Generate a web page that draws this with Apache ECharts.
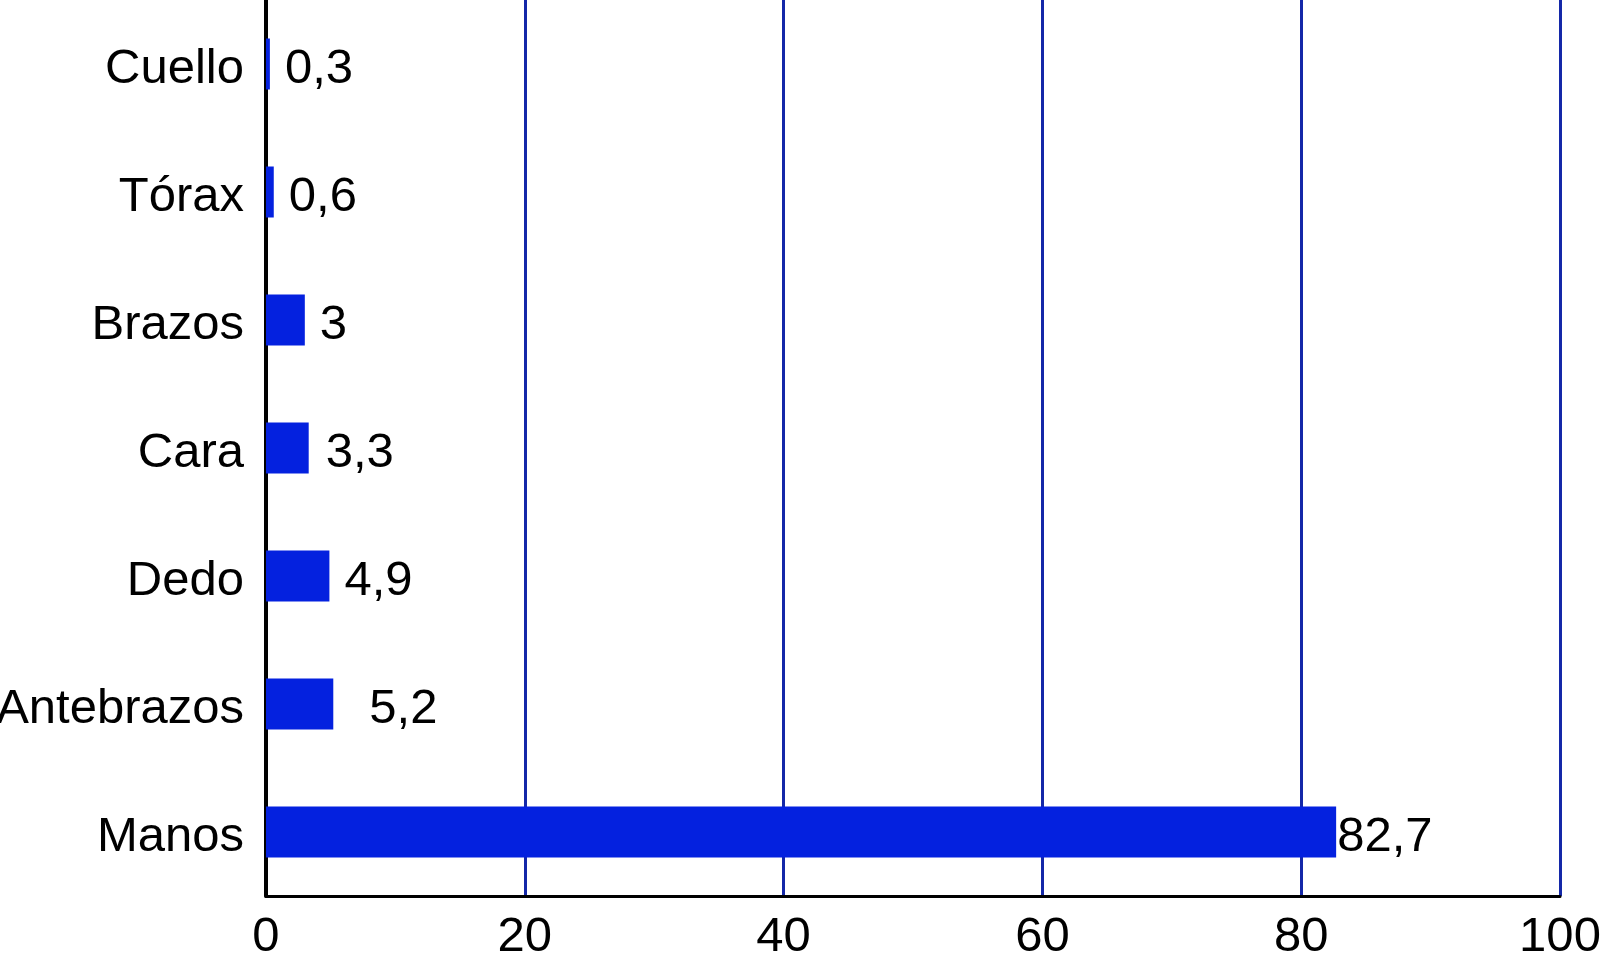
<!DOCTYPE html>
<html>
<head>
<meta charset="utf-8">
<script src="https://cdn.jsdelivr.net/npm/echarts@6/dist/echarts.min.js"></script>
<style>
html,body{margin:0;padding:0;background:#fff;}
#chart{width:1606px;height:960px;}
</style>
</head>
<body>
<div id="chart"></div>
<script>
// Data (bottom to top, as ECharts category axis draws first item at bottom)
const categories = ['Manos', 'Antebrazos', 'Dedo', 'Cara', 'Brazos', 'Tórax', 'Cuello'];
const values = [82.7, 5.2, 4.9, 3.3, 3, 0.6, 0.3];
const xTicks = [0, 20, 40, 60, 80, 100];

// label gaps (style only)
const labelGaps = [1, 36, 15, 17, 15, 15, 15];

const FONT = '"Liberation Sans", Arial, Helvetica, sans-serif';
const chart = echarts.init(document.getElementById('chart'), null, {renderer: 'canvas'});

const seriesData = values.map((v, i) => ({
  value: v,
  label: {distance: labelGaps[i]}
}));

chart.setOption({
  animation: false,
  backgroundColor: '#ffffff',
  grid: {left: 266, right: 46, top: 0, bottom: 64, containLabel: false, outerBoundsMode: 'none'},
  xAxis: {
    type: 'value',
    min: xTicks[0],
    max: xTicks[xTicks.length - 1],
    interval: xTicks[1] - xTicks[0],
    axisLine: {show: true, onZero: false, lineStyle: {color: '#000', width: 3}},
    axisTick: {show: false},
    axisLabel: {color: '#000', fontSize: 49, fontFamily: FONT, margin: 17},
    splitLine: {
      show: true,
      lineStyle: {color: '#1428a8', width: 3},
      showMinLine: false
    }
  },
  yAxis: {
    type: 'category',
    data: categories,
    axisLine: {show: true, lineStyle: {color: '#000', width: 4}},
    axisTick: {show: false},
    axisLabel: {
      color: '#000', fontSize: 49, fontFamily: FONT, margin: 22,
      formatter: v => '{t|' + v + '}',
      rich: {t: {fontSize: 49, fontFamily: FONT, color: '#000', padding: [10, 0, 0, 0]}}
    },
    splitLine: {show: false}
  },
  series: [{
    type: 'bar',
    data: seriesData,
    barWidth: 51,
    itemStyle: {color: '#0421df'},
    label: {
      show: true,
      position: 'right',
      color: '#000',
      fontSize: 49,
      fontFamily: FONT,
      offset: [0, 5],
      formatter: p => String(p.value).replace('.', ',')
    }
  }]
});
</script>
</body>
</html>
